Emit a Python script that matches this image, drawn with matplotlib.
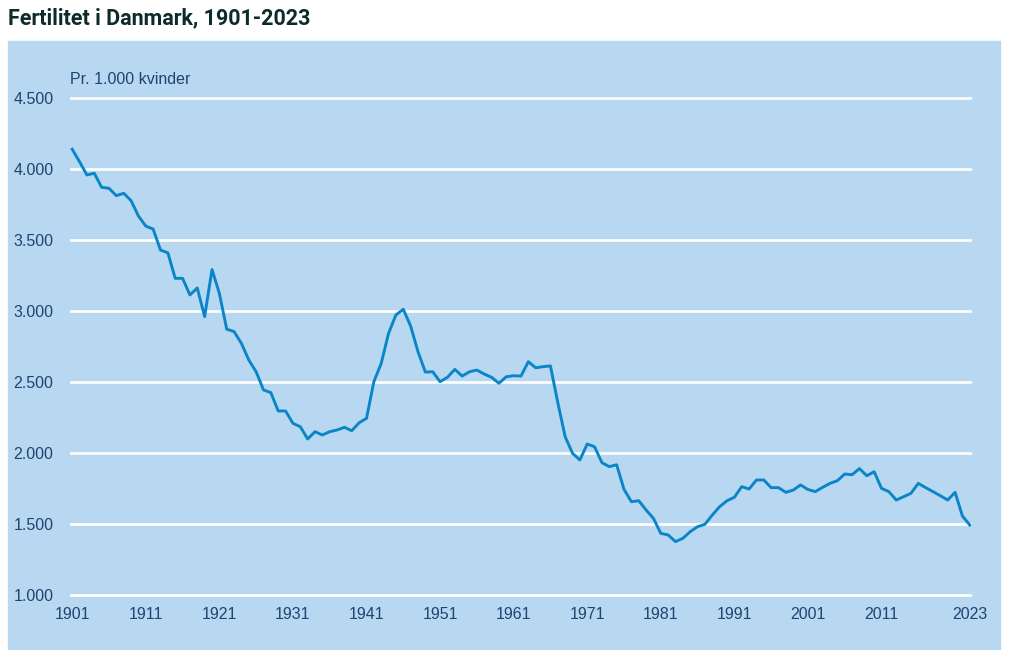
import numpy as np
import matplotlib
matplotlib.use("Agg")
import matplotlib.pyplot as plt
from matplotlib.patches import Rectangle

# Samlet fertilitet pr. 1.000 kvinder, 1901-2023
years = np.arange(1901, 2024)
fertility = [
    4139, 4051, 3958, 3970, 3871, 3864, 3812, 3829, 3777, 3669,   # 1901-1910
    3598, 3577, 3429, 3410, 3230, 3230, 3113, 3162, 2960, 3292,   # 1911-1920
    3124, 2872, 2855, 2772, 2655, 2572, 2444, 2425, 2296, 2296,   # 1921-1930
    2209, 2185, 2099, 2150, 2127, 2150, 2162, 2181, 2157, 2213,   # 1931-1940
    2244, 2502, 2631, 2843, 2972, 3012, 2894, 2713, 2570, 2572,   # 1941-1950
    2502, 2533, 2589, 2542, 2572, 2584, 2556, 2533, 2491, 2537,   # 1951-1960
    2544, 2542, 2643, 2600, 2608, 2613, 2355, 2115, 1998, 1951,   # 1961-1970
    2063, 2044, 1932, 1904, 1917, 1744, 1657, 1664, 1599, 1540,   # 1971-1980
    1434, 1423, 1376, 1399, 1446, 1481, 1498, 1563, 1622, 1664,   # 1981-1990
    1688, 1763, 1746, 1810, 1810, 1756, 1756, 1723, 1739, 1775,   # 1991-2000
    1743, 1728, 1758, 1786, 1805, 1852, 1847, 1890, 1840, 1868,   # 2001-2010
    1751, 1728, 1669, 1692, 1716, 1786, 1756, 1728, 1699, 1669,   # 2011-2020
    1723, 1556, 1493,                                             # 2021-2023
]
xticks = [1901, 1911, 1921, 1931, 1941, 1951, 1961, 1971, 1981, 1991, 2001, 2011, 2023]
yticks = [1000, 1500, 2000, 2500, 3000, 3500, 4000, 4500]

panel = "#b8d8f1"
navy = "#1e4470"
line_col = "#0a86c8"
narrow = ["Liberation Sans Narrow", "Liberation Sans", "DejaVu Sans"]

fig = plt.figure(figsize=(10.09, 6.5), dpi=100)
fig.patches.append(Rectangle((8 / 1009, 0), 992 / 1009, 1 - 41 / 650,
                             transform=fig.transFigure, color=panel, zorder=-5))

fig.text(8 / 1009, 1 - 18 / 650, "Fertilitet i Danmark, 1901-2023",
         fontsize=15.5, fontweight="bold", color="#0e2b2b",
         family=["Roboto", "DejaVu Sans"], va="center", ha="left")

ax = fig.add_axes([70 / 1009, 50 / 650, 902 / 1009, 510 / 650])
ax.set_facecolor("none")
ax.plot(years, fertility, color=line_col, lw=2.1, zorder=3,
        solid_joinstyle="round")

ax.set_xlim(1900.7, 2023.3)
ax.set_ylim(1000 - 5 * 7.042, 1000 + 505 * 7.042)
ax.set_yticks(yticks)
ax.set_yticklabels([f"{v:,}".replace(",", ".") for v in yticks])
ax.set_xticks(xticks)
ax.set_xticklabels([str(y) for y in xticks])

ax.grid(axis="y", color="white", lw=1.9, zorder=1)
ax.grid(axis="x", visible=False)
ax.set_axisbelow(True)
for s in ax.spines.values():
    s.set_visible(False)
ax.tick_params(axis="both", length=0, colors=navy, labelsize=11.5)
ax.tick_params(axis="y", pad=12)
ax.tick_params(axis="x", pad=5)
for lab in ax.get_xticklabels() + ax.get_yticklabels():
    lab.set_family(narrow)

fig.text(70 / 1009, 1 - 80 / 650, "Pr. 1.000 kvinder",
         color=navy, fontsize=11.5, family=narrow, va="center", ha="left")

fig.savefig("out.png", dpi=100)
